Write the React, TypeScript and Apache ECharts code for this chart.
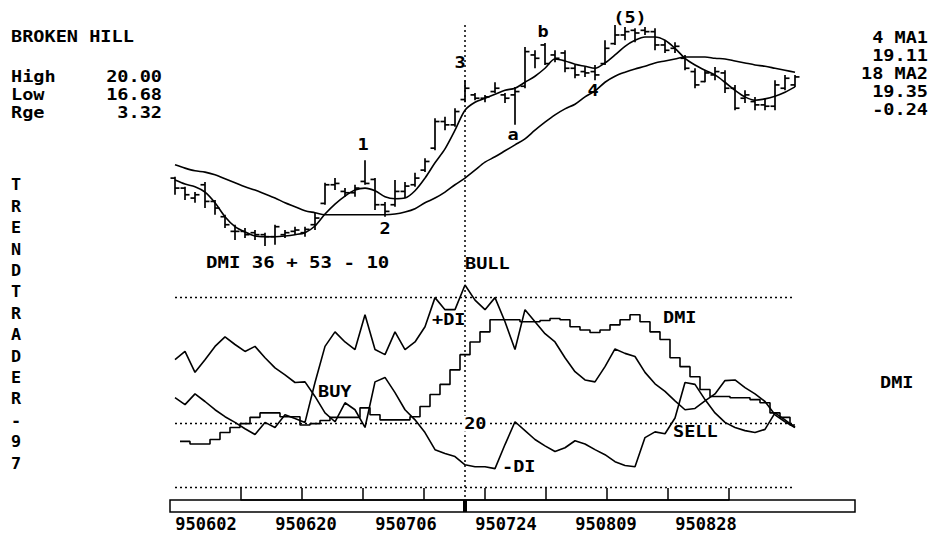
import React, { useEffect, useRef } from "react";
import * as echarts from "echarts";

// ---- price bars (one per trading day) ----
const highs = [17.72, 17.57, 17.49, 17.64, 17.37, 17.15, 17.0, 16.95, 16.92, 16.88,
  17.0, 16.92, 16.97, 16.97, 17.18, 17.63, 17.7, 17.55, 17.6, 17.97,
  17.7, 17.34, 17.67, 17.64, 17.78, 18.0, 18.6, 18.62, 18.75, 19.17,
  18.98, 18.95, 19.14, 18.98, 19.07, 19.67, 19.62, 19.73, 19.62, 19.62,
  19.4, 19.37, 19.4, 19.77, 20.0, 19.97, 19.95, 19.97, 19.95, 19.77,
  19.74, 19.55, 19.35, 19.32, 19.37, 19.32, 19.1, 19.02, 18.92, 18.9,
  19.17, 19.25, 19.25];
const lows = [17.45, 17.37, 17.33, 17.25, 17.15, 16.95, 16.77, 16.8, 16.77, 16.68,
  16.7, 16.8, 16.85, 16.82, 16.92, 17.3, 17.52, 17.42, 17.42, 17.6,
  17.22, 17.12, 17.27, 17.4, 17.57, 17.79, 18.12, 18.42, 18.47, 18.84,
  18.87, 18.84, 18.98, 18.83, 18.5, 19.05, 19.35, 19.4, 19.44, 19.29,
  19.2, 19.22, 19.17, 19.4, 19.7, 19.77, 19.74, 19.85, 19.62, 19.58,
  19.58, 19.32, 19.05, 19.14, 19.17, 18.98, 18.72, 18.83, 18.72, 18.72,
  18.72, 19.02, 19.07];
const opens = [17.7, 17.55, 17.4, 17.6, 17.35, 17.12, 16.9, 16.9, 16.88, 16.85,
  16.82, 16.85, 16.9, 16.88, 17.0, 17.32, 17.6, 17.5, 17.48, 17.65,
  17.68, 17.3, 17.3, 17.5, 17.6, 17.82, 18.15, 18.55, 18.5, 18.88,
  18.95, 18.9, 19.0, 18.95, 18.95, 19.08, 19.55, 19.7, 19.55, 19.58,
  19.35, 19.3, 19.3, 19.42, 19.72, 19.85, 19.92, 19.92, 19.9, 19.7,
  19.65, 19.5, 19.3, 19.15, 19.25, 19.28, 19.05, 18.9, 18.85, 18.8,
  18.78, 19.05, 19.1];
const closes = [17.55, 17.45, 17.45, 17.35, 17.25, 17.0, 16.9, 16.85, 16.85, 16.82,
  16.97, 16.88, 16.92, 16.93, 17.1, 17.6, 17.62, 17.48, 17.55, 17.62,
  17.3, 17.2, 17.5, 17.58, 17.7, 17.95, 18.55, 18.5, 18.7, 19.05,
  18.9, 18.92, 19.05, 18.9, 19.0, 19.6, 19.5, 19.42, 19.5, 19.35,
  19.25, 19.28, 19.25, 19.65, 19.85, 19.9, 19.88, 19.9, 19.7, 19.62,
  19.68, 19.35, 19.1, 19.28, 19.3, 19.05, 18.75, 18.95, 18.8, 18.78,
  19.1, 19.2, 19.22];

// ---- moving averages ----
const ma1 = [17.67, 17.61, 17.57, 17.49, 17.33, 17.12, 16.97, 16.89, 16.83, 16.82,
  16.82, 16.83, 16.85, 16.88, 16.98, 17.16, 17.31, 17.43, 17.52, 17.55,
  17.51, 17.42, 17.39, 17.4, 17.51, 17.7, 17.93, 18.14, 18.42, 18.72,
  18.84, 18.9, 18.96, 19.02, 19.05, 19.14, 19.23, 19.35, 19.49, 19.46,
  19.41, 19.38, 19.35, 19.43, 19.55, 19.68, 19.77, 19.82, 19.82, 19.77,
  19.65, 19.5, 19.4, 19.32, 19.25, 19.14, 19.02, 18.92, 18.87, 18.89,
  18.93, 18.99, 19.07];
const ma2 = [17.9, 17.85, 17.81, 17.79, 17.75, 17.69, 17.63, 17.57, 17.52, 17.46,
  17.4, 17.33, 17.27, 17.21, 17.18, 17.15, 17.15, 17.15, 17.15, 17.15,
  17.15, 17.15, 17.16, 17.19, 17.24, 17.33, 17.4, 17.49, 17.6, 17.7,
  17.82, 17.94, 18.02, 18.11, 18.2, 18.29, 18.42, 18.54, 18.65, 18.74,
  18.81, 18.92, 19.01, 19.14, 19.23, 19.29, 19.34, 19.38, 19.43, 19.46,
  19.49, 19.52, 19.52, 19.52, 19.5, 19.49, 19.46, 19.43, 19.4, 19.38,
  19.35, 19.32, 19.29];

// ---- directional movement ----
const plusDI = [24.1, 23.0, 24.7, 23.5, 22.2, 21.1, 20.2, 19.2, 18.3, 20.2,
  19.4, 21.4, 20.8, 20.2, 26.5, 32.2, 34.5, 32.9, 31.7, 37.2,
  31.7, 30.9, 34.5, 31.7, 32.9, 35.3, 39.9, 38.0, 38.0, 41.9,
  39.5, 38.0, 39.9, 36.1, 31.7, 38.0, 36.1, 34.2, 32.9, 30.4,
  28.2, 26.9, 26.6, 29.0, 31.8, 31.1, 30.6, 28.1, 26.3, 25.1,
  23.6, 22.2, 22.4, 23.6, 24.7, 26.8, 26.9, 25.7, 24.7, 23.5,
  21.4, 20.3, 19.4];
const minusDI = [30.1, 31.4, 28.1, 30.1, 32.2, 33.7, 32.5, 31.4, 32.2, 30.4,
  28.8, 27.7, 26.5, 26.6, 24.3, 21.7, 20.3, 23.3, 22.2, 19.4,
  26.6, 27.3, 24.9, 22.2, 20.6, 18.6, 15.9, 15.3, 14.8, 13.5,
  13.2, 13.2, 12.9, 16.7, 20.3, 18.9, 17.5, 16.5, 15.6, 16.2,
  17.3, 16.8, 15.9, 15.1, 14.0, 13.4, 13.2, 17.8, 18.7, 18.4,
  20.9, 26.5, 26.2, 23.8, 21.7, 20.2, 19.4, 18.9, 18.6, 19.1,
  21.7, 20.6, 19.4];
const dmi = [null, 17.2, 16.8, 16.8, 17.5, 18.6, 19.4, 20.0, 21.0, 21.7,
  21.7, 21.1, 21.1, 19.8, 20.0, 20.5, 21.0, 21.0, 21.0, 22.5,
  21.4, 20.6, 20.6, 20.6, 21.1, 22.7, 24.6, 26.2, 28.5, 30.9,
  32.9, 34.5, 36.4, 36.4, 36.4, 36.1, 36.1, 36.3, 36.6, 36.4,
  35.3, 34.8, 34.4, 34.8, 35.6, 36.4, 37.2, 36.1, 34.5, 33.3,
  30.4, 29.0, 27.4, 25.4, 24.3, 24.3, 24.1, 24.1, 23.8, 23.3,
  21.7, 21.0, 19.8];
const dmiLevels = [40, 20, 10];

// ---- axis texts ----
const dateLabels = ["950602", "950620", "950706", "950724", "950809", "950828"];
const weekTicks = ["w1", "w2", "w3", "w4", "w5", "w6", "w7", "w8", "w9"];
const bullBar = 29;

// ---- annotations anchored in data space ----
const priceNotes = [
  { text: "1", i: 18.8, v: 18.2 },
  { text: "2", i: 21.0, v: 16.95 },
  { text: "3", i: 28.5, v: 19.44 },
  { text: "a", i: 33.8, v: 18.35 },
  { text: "b", i: 36.8, v: 19.91 },
  { text: "4", i: 41.8, v: 19.02 },
  { text: "(5)", i: 45.5, v: 20.11 },
];
const dmiNotes = [
  { text: "+DI", i: 25.7, v: 36.4 },
  { text: "BUY", i: 14.3, v: 25.1 },
  { text: "-DI", i: 32.7, v: 13.2 },
  { text: "SELL", i: 49.8, v: 18.7 },
  { text: "DMI", i: 48.8, v: 36.8 },
];
const titleText = "BROKEN HILL";
const maText = ["4 MA1", "19.11", "18 MA2", "19.35", "-0.24"];
const dmiHeader = "DMI 36 + 53 - 10";
const signalText = "BULL";
const sideText = "TRENDTRADER-97";

const FONT = '"DejaVu Sans Mono", "Liberation Mono", monospace';

export default function App() {
  const ref = useRef<HTMLDivElement>(null);
  useEffect(() => {
    const chart = echarts.init(ref.current as HTMLDivElement, null, { renderer: "svg" });
    const cats = highs.map((_, i) => String(i));
    const last = highs.length - 1;
    const ohlc = highs.map((h, i) => [i, h, lows[i], opens[i], closes[i]]);
    const lineStyle = { color: "#000", width: 1.6 };
    const base = { type: "line", symbol: "none", clip: false, silent: true, lineStyle, z: 3 };

    chart.setOption({
      animation: false,
      backgroundColor: "#fff",
      grid: [
        { left: 170, top: 25, width: 630, height: 221 },
        { left: 170, top: 297, width: 630, height: 190 },
        { left: 241, top: 500, width: 488, height: 12 },
        { left: 206, top: 500, width: 500, height: 12 },
      ],
      xAxis: [
        { gridIndex: 0, type: "category", data: cats, show: false },
        { gridIndex: 1, type: "category", data: cats, show: false },
        {
          gridIndex: 2, type: "category", data: weekTicks, boundaryGap: false, position: "top", z: 5,
          axisLine: { show: true, onZero: false, lineStyle: { color: "#000", width: 1.5 } },
          axisTick: { show: true, length: 12, interval: 0, lineStyle: { color: "#000", width: 1.5 } },
          axisLabel: { show: false }, splitLine: { show: false },
        },
        {
          gridIndex: 3, type: "category", data: dateLabels, boundaryGap: false,
          axisLine: { show: false, onZero: false }, axisTick: { show: false },
          axisLabel: { interval: 0, margin: 3, fontFamily: FONT, fontWeight: "bold", fontSize: 17, color: "#000" },
        },
      ],
      yAxis: [
        { gridIndex: 0, type: "value", min: 16.68, max: 20.0, show: false },
        { gridIndex: 1, type: "value", min: 10, max: 40, show: false },
        { gridIndex: 2, type: "value", min: 0, max: 1, show: false },
        { gridIndex: 3, type: "value", min: 0, max: 1, show: false },
      ],
      series: [
        {
          type: "custom", xAxisIndex: 0, yAxisIndex: 0, data: ohlc, silent: true, z: 4,
          encode: { x: 0, y: [1, 2, 3, 4] },
          renderItem: (_p: any, api: any) => {
            const i = api.value(0);
            const hi = api.coord([i, api.value(1)]);
            const lo = api.coord([i, api.value(2)]);
            const op = api.coord([i, api.value(3)]);
            const cl = api.coord([i, api.value(4)]);
            const x = hi[0];
            const st = { stroke: "#000", lineWidth: 1.7 };
            return {
              type: "group",
              children: [
                { type: "line", shape: { x1: x, y1: hi[1], x2: x, y2: lo[1] }, style: st },
                { type: "line", shape: { x1: x - 4.5, y1: op[1], x2: x, y2: op[1] }, style: st },
                { type: "line", shape: { x1: x, y1: cl[1], x2: x + 4.5, y2: cl[1] }, style: st },
              ],
            };
          },
        },
        { ...base, name: "MA1", xAxisIndex: 0, yAxisIndex: 0, data: ma1, smooth: 0.3 },
        { ...base, name: "MA2", xAxisIndex: 0, yAxisIndex: 0, data: ma2, smooth: 0.3 },
        {
          ...base, name: "+DI", xAxisIndex: 1, yAxisIndex: 1, data: plusDI,
          markLine: {
            silent: true, symbol: "none", label: { show: false },
            lineStyle: { color: "#000", width: 1.4, type: [2, 3] },
            data: dmiLevels.map((v) => [{ xAxis: 0, yAxis: v }, { xAxis: last, yAxis: v }]),
          },
        },
        { ...base, name: "-DI", xAxisIndex: 1, yAxisIndex: 1, data: minusDI },
        { ...base, name: "DMI", xAxisIndex: 1, yAxisIndex: 1, data: dmi, step: "middle" },
      ],
    });

    const toPx = (g: number, i: number, v: number) => {
      const a = chart.convertToPixel({ xAxisIndex: g, yAxisIndex: g }, [0, v]) as number[];
      const b = chart.convertToPixel({ xAxisIndex: g, yAxisIndex: g }, [1, v]) as number[];
      return [a[0] + (b[0] - a[0]) * i, a[1]];
    };
    const SX = 1.16;
    const txt = (text: string, x: number, y: number, align = "left", extra: any = {}) => ({
      type: "text", x, y, scaleX: SX, silent: true, z: 20,
      style: { text, fill: "#000", font: `bold 16px ${FONT}`, textAlign: align, textVerticalAlign: "middle", ...extra },
    });

    const hiVal = Math.max(...highs);
    const loVal = Math.min(...lows);
    const xb = toPx(0, bullBar, 0)[0];
    const y20 = toPx(1, 0, 20)[1];

    const els: any[] = [
      { type: "rect", z: -1, silent: true, shape: { x: 170, y: 500, width: 685, height: 12 }, style: { fill: "none", stroke: "#000", lineWidth: 1.5 } },
      { type: "line", z: 2, silent: true, shape: { x1: xb, y1: 25, x2: xb, y2: 500 }, style: { stroke: "#000", lineWidth: 1.5, lineDash: [2, 3] } },
      { type: "rect", z: 2, silent: true, shape: { x: xb - 2, y: 500, width: 4, height: 12 }, style: { fill: "#000" } },
      txt(titleText, 11, 36),
      txt("High", 11, 76), txt(hiVal.toFixed(2), 162, 76, "right"),
      txt("Low", 11, 94), txt(loVal.toFixed(2), 162, 94, "right"),
      txt("Rge", 11, 112), txt((hiVal - loVal).toFixed(2), 162, 112, "right"),
      ...maText.map((t, k) => txt(t, 928, 37 + 18 * k, "right")),
      { ...txt(dmiHeader, 206, 263), scaleX: 1.19 },
      txt(signalText, 465, 263),
      txt("DMI", 880, 382),
      ...sideText.split("").map((ch, k) => ({ ...txt(ch, 16, 185 + 21.4 * k, "center"), scaleX: 1.05 })),
      ...priceNotes.map((n) => { const p = toPx(0, n.i, n.v); return txt(n.text, p[0], p[1], "center"); }),
      ...dmiNotes.map((n) => { const p = toPx(1, n.i, n.v); return txt(n.text, p[0], p[1], "left"); }),
      txt("20", toPx(1, 28.8, 20)[0], y20, "left", { backgroundColor: "#fff", padding: [0, 1] }),
    ];
    chart.setOption({ graphic: { elements: els } });

    return () => chart.dispose();
  }, []);
  return <div ref={ref} style={{ position: "absolute", left: 0, top: 0, width: 931, height: 534 }} />;
}
